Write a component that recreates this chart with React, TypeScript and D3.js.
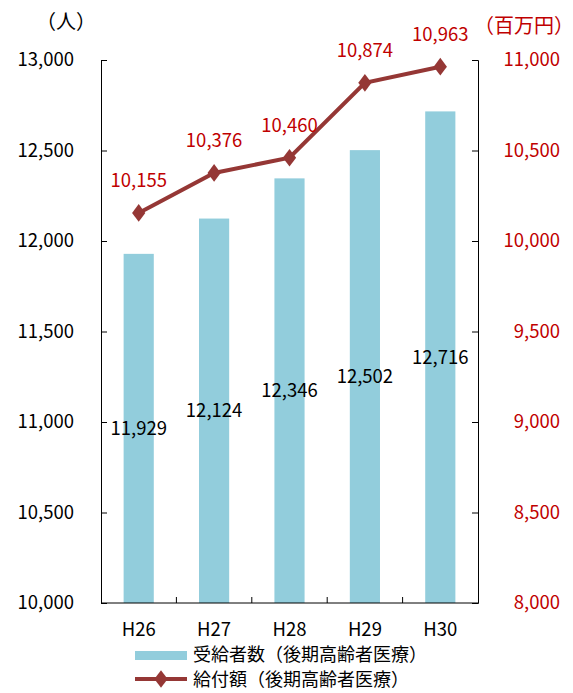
import React, { useEffect, useRef } from 'react';
import * as d3 from 'd3';

const years = ['H26', 'H27', 'H28', 'H29', 'H30'];
const recipients = [11929, 12124, 12346, 12502, 12716];
const benefits = [10155, 10376, 10460, 10874, 10963];
const leftTicks = [10000, 10500, 11000, 11500, 12000, 12500, 13000];
const rightTicks = [8000, 8500, 9000, 9500, 10000, 10500, 11000];
const barLabel = '受給者数（後期高齢者医療）';
const lineLabel = '給付額（後期高齢者医療）';

const FONT = '"Noto Sans CJK JP", "Noto Sans", sans-serif';
const BAR = '#92CDDC';
const LINE = '#953735';
const RED = '#C00000';

const App = () => {
  const svgRef = useRef<SVGSVGElement>(null);

  useEffect(() => {
    const width = 573;
    const height = 693;
    const left = 101, right = 478, top = 60, bottom = 603;

    const svg = d3.select(svgRef.current);
    svg.selectAll('*').remove();
    svg.attr('width', width).attr('height', height)
      .style('font-family', FONT);

    const x = d3.scaleBand().domain(years).range([left, right]).paddingInner(0).paddingOuter(0);
    const yL = d3.scaleLinear().domain([10000, 13000]).range([bottom, top]);
    const yR = d3.scaleLinear().domain([8000, 11000]).range([bottom, top]);
    const fmt = d3.format(',');

    // Bars
    const barW = x.bandwidth() * 0.4;
    svg.selectAll('.bar')
      .data(recipients)
      .enter()
      .append('rect')
      .attr('x', (d, i) => x(years[i])! + x.bandwidth() / 2 - barW / 2)
      .attr('y', d => yL(d))
      .attr('width', barW)
      .attr('height', d => bottom - yL(d))
      .attr('fill', BAR);

    // Left axis
    const gl = svg.append('g').attr('transform', `translate(${left},0)`)
      .call(d3.axisRight(yL).tickValues(leftTicks).tickSize(6).tickFormat(() => ''));
    gl.selectAll('path, line').attr('stroke', '#000');
    svg.selectAll('.ltick')
      .data(leftTicks)
      .enter()
      .append('text')
      .attr('x', 74)
      .attr('y', d => yL(d))
      .attr('dy', '0.35em')
      .attr('text-anchor', 'end')
      .attr('font-size', 18.5)
      .attr('fill', '#000')
      .text(d => fmt(d));

    // Right axis
    const gr = svg.append('g').attr('transform', `translate(${right},0)`)
      .call(d3.axisLeft(yR).tickValues(rightTicks).tickSize(6).tickFormat(() => ''));
    gr.selectAll('path, line').attr('stroke', '#000');
    svg.selectAll('.rtick')
      .data(rightTicks)
      .enter()
      .append('text')
      .attr('x', 560)
      .attr('y', d => yR(d))
      .attr('dy', '0.35em')
      .attr('text-anchor', 'end')
      .attr('font-size', 18.5)
      .attr('fill', RED)
      .text(d => fmt(d));

    // Bottom axis
    svg.append('line')
      .attr('x1', left).attr('x2', right)
      .attr('y1', bottom).attr('y2', bottom)
      .attr('stroke', '#000');
    svg.selectAll('.xtick')
      .data(years.slice(1))
      .enter()
      .append('line')
      .attr('x1', d => x(d)!).attr('x2', d => x(d)!)
      .attr('y1', bottom).attr('y2', bottom - 6)
      .attr('stroke', '#000');
    svg.selectAll('.xlabel')
      .data(years)
      .enter()
      .append('text')
      .attr('x', d => x(d)! + x.bandwidth() / 2)
      .attr('y', 630)
      .attr('dy', '0.35em')
      .attr('text-anchor', 'middle')
      .attr('font-size', 18.5)
      .text(d => d);

    // Bar labels
    svg.selectAll('.blabel')
      .data(recipients)
      .enter()
      .append('text')
      .attr('x', (d, i) => x(years[i])! + x.bandwidth() / 2)
      .attr('y', d => (yL(d) + bottom) / 2)
      .attr('dy', '0.35em')
      .attr('text-anchor', 'middle')
      .attr('font-size', 18.5)
      .attr('fill', '#000')
      .text(d => fmt(d));

    // Line
    const cx = (i: number) => x(years[i])! + x.bandwidth() / 2;
    const line = d3.line<number>().x((d, i) => cx(i)).y(d => yR(d));
    svg.append('path')
      .datum(benefits)
      .attr('d', line)
      .attr('fill', 'none')
      .attr('stroke', LINE)
      .attr('stroke-width', 4);
    const diamond = d3.symbol().type(d3.symbolDiamond).size(90);
    svg.selectAll('.pt')
      .data(benefits)
      .enter()
      .append('path')
      .attr('d', diamond)
      .attr('transform', (d, i) => `translate(${cx(i)},${yR(d)}) scale(1.3,1)`)
      .attr('fill', LINE);
    svg.selectAll('.llabel')
      .data(benefits)
      .enter()
      .append('text')
      .attr('x', (d, i) => cx(i))
      .attr('y', d => yR(d) - 32)
      .attr('dy', '0.35em')
      .attr('text-anchor', 'middle')
      .attr('font-size', 18.5)
      .attr('fill', RED)
      .text(d => fmt(d));

    // Units
    svg.append('text')
      .attr('x', 66).attr('y', 22).attr('dy', '0.35em')
      .attr('text-anchor', 'middle')
      .attr('font-size', 20)
      .text('（人）');
    svg.append('text')
      .attr('x', 524).attr('y', 26).attr('dy', '0.35em')
      .attr('text-anchor', 'middle')
      .attr('font-size', 20)
      .attr('fill', RED)
      .text('（百万円）');

    // Legend
    svg.append('rect')
      .attr('x', 135).attr('y', 651)
      .attr('width', 52).attr('height', 9)
      .attr('fill', BAR);
    svg.append('text')
      .attr('x', 193).attr('y', 655).attr('dy', '0.35em')
      .attr('font-size', 18)
      .text(barLabel);
    svg.append('line')
      .attr('x1', 135).attr('x2', 187)
      .attr('y1', 679).attr('y2', 679)
      .attr('stroke', LINE)
      .attr('stroke-width', 4);
    svg.append('path')
      .attr('d', diamond)
      .attr('transform', 'translate(161,679) scale(1.3,1)')
      .attr('fill', LINE);
    svg.append('text')
      .attr('x', 193).attr('y', 680).attr('dy', '0.35em')
      .attr('font-size', 18)
      .text(lineLabel);
  }, []);

  return (
    <svg ref={svgRef} style={{ position: 'absolute', left: 0, top: 0, background: '#fff' }}></svg>
  );
};

export default App;
